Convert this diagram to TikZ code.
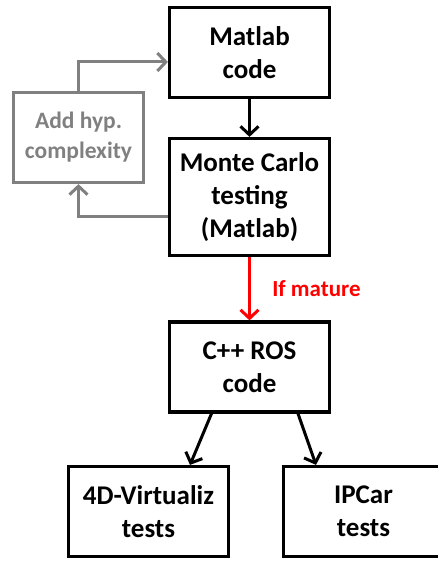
\documentclass[tikz,border=0pt]{standalone}
\usepackage{fontspec}
\setmainfont{Carlito}
\usetikzlibrary{arrows.meta}

\begin{document}
\begin{tikzpicture}[x=1pt, y=-1pt,
    box/.style={draw, line width=3.2pt, minimum width=160pt, minimum height=90pt,
                inner sep=0pt, align=center, font=\bfseries\fontsize{27}{33}\selectfont},
    graybox/.style={box, draw=gray, text=gray, minimum width=130pt,
                font=\bfseries\fontsize{23.5}{30}\selectfont},
    flow/.style={line width=3pt, -{Straight Barb[length=8.5pt, width=18pt]}}]
  \useasboundingbox (0, 0) rectangle (437, 561);

  \node[box] (code) at (249.5, 52.5) {Matlab\\code};
  \node[box, minimum height=117pt] (mc) at (249.5, 197) {Monte Carlo\\testing\\(Matlab)};
  \node[graybox] (hyp) at (78.5, 137.5) {Add hyp.\\complexity};
  \node[box] (ros) at (249.5, 367) {C++ ROS\\code};
  \node[box] (virt) at (148.5, 511.5) {4D-Virtualiz\\tests};
  \node[box] (ipcar) at (363.5, 511.5) {IPCar\\tests};

  \draw[flow] (code) -- (mc);
  \draw[flow, draw=gray] (hyp.north) |- ([yshift=-9.5pt]code.west);
  \draw[flow, draw=gray] ([yshift=-19pt]mc.west) -| (hyp.south);
  \draw[flow, draw=red] (mc) -- (ros)
    node[midway, right=18pt, text=red, font=\bfseries\fontsize{23}{28}\selectfont] {If mature};
  \draw[flow] ([xshift=-38pt]ros.south) -- ([xshift=41.5pt]virt.north);
  \draw[flow] ([xshift=48.5pt]ros.south) -- ([xshift=-47.5pt]ipcar.north);
\end{tikzpicture}
\end{document}
